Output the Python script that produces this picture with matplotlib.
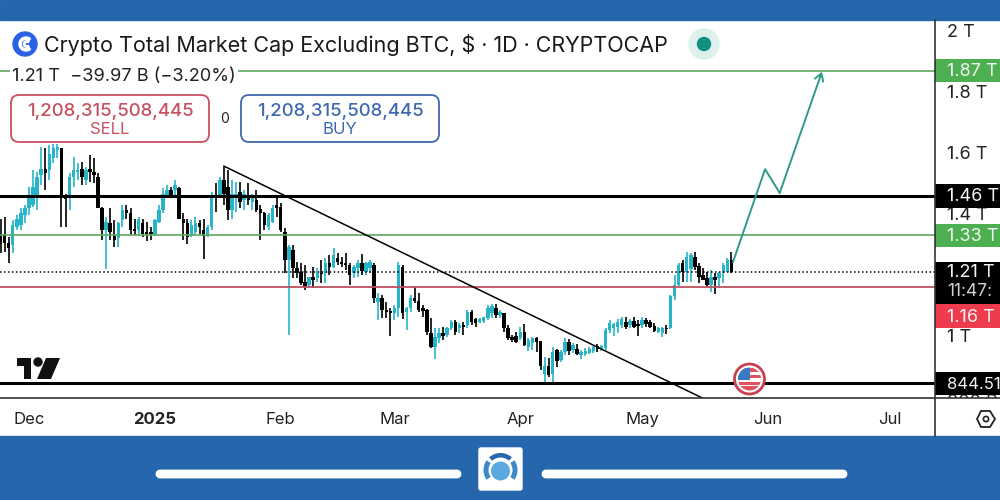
import matplotlib
matplotlib.use('Agg')
import matplotlib.pyplot as plt
import numpy as np
from matplotlib.patches import Rectangle, FancyBboxPatch, Circle, Polygon, Wedge

plt.rcParams['font.family'] = ['Inter', 'DejaVu Sans']

# daily candles, values in trillions. first candle is 7 days before Dec 1
first_day = -7
opens = [1.336,1.336,1.306,1.298,1.358,1.363,1.396,1.418,1.429,1.462,1.527,1.546,1.544,1.582,1.609,1.615,1.462,1.451,1.522,1.538,1.546,1.511,1.549,1.538,1.522,1.421,1.347,1.371,1.327,1.320,1.380,1.413,1.404,1.350,1.347,1.371,1.342,1.342,1.334,1.374,1.413,1.462,1.478,1.478,1.484,1.385,1.369,1.327,1.342,1.369,1.347,1.327,1.358,1.462,1.462,1.513,1.489,1.413,1.451,1.473,1.445,1.462,1.440,1.445,1.415,1.402,1.358,1.374,1.429,1.424,1.342,
         1.249,1.282,1.222,1.211,1.178,1.167,1.194,1.189,1.205,1.205,1.238,1.227,1.255,1.244,1.238,1.233,1.205,1.222,1.238,1.211,1.222,1.233,1.112,1.123,1.085,1.083,1.074,1.091,1.227,1.080,1.091,1.123,1.116,1.091,1.085,1.009,0.965,0.992,1.009,1.003,1.025,1.047,1.025,1.036,1.036,1.080,1.055,1.047,1.050,1.058,1.074,1.091,1.069,1.074,1.025,0.998,1.000,
         0.992,1.014,0.965,0.976,0.992,0.984,0.877,0.902,0.875,0.954,0.921,0.949,0.981,0.954,0.956,0.938,0.941,0.945,0.952,0.967,0.956,0.959,1.020,1.025,1.030,1.036,1.047,1.036,1.050,1.039,1.036,1.052,1.047,1.033,1.014,1.009,1.025,1.025,1.131,1.167,1.238,1.211,1.219,1.258,1.229,1.200,1.189,1.167,1.194,1.189,1.205,1.211,1.249]
highs = [1.385,1.389,1.325,1.380,1.396,1.418,1.429,1.489,1.544,1.538,1.620,1.615,1.626,1.629,1.629,1.615,1.467,1.533,1.588,1.566,1.571,1.555,1.593,1.582,1.533,1.424,1.391,1.421,1.380,1.374,1.429,1.429,1.418,1.385,1.389,1.385,1.374,1.358,1.385,1.429,1.484,1.495,1.489,1.513,1.489,1.402,1.385,1.380,1.391,1.380,1.385,1.363,1.473,1.500,1.522,1.555,1.544,1.511,1.506,1.506,1.478,1.500,1.467,1.478,1.429,1.407,1.402,1.429,1.462,1.435,1.353,
         1.298,1.298,1.244,1.238,1.233,1.194,1.227,1.222,1.249,1.255,1.266,1.287,1.273,1.260,1.273,1.238,1.233,1.249,1.269,1.244,1.249,1.238,1.140,1.134,1.112,1.091,1.102,1.244,1.233,1.096,1.134,1.159,1.140,1.102,1.087,1.058,1.025,1.025,1.030,1.030,1.052,1.052,1.041,1.047,1.085,1.085,1.058,1.058,1.063,1.102,1.105,1.105,1.085,1.076,1.036,1.003,1.014,
         1.030,1.039,0.992,0.998,0.996,0.985,0.932,0.927,0.963,0.956,0.954,0.992,0.989,0.976,0.974,0.954,0.959,0.963,0.967,0.974,0.970,1.025,1.052,1.041,1.055,1.061,1.061,1.055,1.061,1.052,1.063,1.058,1.052,1.041,1.030,1.030,1.036,1.134,1.200,1.240,1.249,1.276,1.273,1.276,1.238,1.222,1.211,1.216,1.205,1.211,1.238,1.255,1.276]
lows = [1.271,1.276,1.238,1.271,1.347,1.347,1.369,1.396,1.424,1.413,1.495,1.478,1.511,1.566,1.582,1.358,1.358,1.413,1.489,1.511,1.495,1.495,1.506,1.500,1.418,1.314,1.221,1.314,1.292,1.292,1.358,1.385,1.331,1.331,1.331,1.325,1.312,1.314,1.327,1.369,1.402,1.451,1.451,1.451,1.385,1.316,1.303,1.323,1.331,1.336,1.251,1.323,1.347,1.407,1.462,1.429,1.380,1.385,1.407,1.418,1.413,1.429,1.413,1.407,1.314,1.347,1.347,1.369,1.391,1.342,1.205,
        1.003,1.189,1.189,1.167,1.151,1.162,1.156,1.178,1.173,1.173,1.200,1.222,1.233,1.227,1.216,1.167,1.189,1.194,1.200,1.200,1.205,1.107,1.052,1.058,1.058,1.000,1.052,1.063,1.055,1.020,1.080,1.107,1.080,1.063,1.003,0.960,0.923,0.976,0.987,0.998,1.020,1.003,1.009,1.003,1.025,1.036,1.030,1.041,1.041,1.052,1.058,1.058,1.058,1.014,0.987,0.981,0.976,
        0.987,0.967,0.952,0.954,0.949,0.888,0.839,0.867,0.850,0.899,0.916,0.938,0.938,0.943,0.938,0.923,0.934,0.941,0.945,0.949,0.952,0.954,1.009,1.000,1.009,1.025,1.022,1.025,1.025,1.000,1.025,1.030,1.025,1.014,1.009,0.996,1.006,1.022,1.118,1.164,1.178,1.178,1.178,1.216,1.173,1.184,1.162,1.145,1.138,1.156,1.173,1.211,1.205]
closes = [1.303,1.306,1.287,1.363,1.385,1.402,1.421,1.456,1.489,1.522,1.546,1.533,1.598,1.615,1.618,1.462,1.448,1.522,1.544,1.544,1.522,1.544,1.538,1.527,1.421,1.347,1.374,1.342,1.316,1.369,1.413,1.404,1.347,1.344,1.382,1.336,1.334,1.334,1.380,1.413,1.467,1.478,1.462,1.495,1.385,1.369,1.323,1.363,1.369,1.356,1.327,1.356,1.462,1.453,1.511,1.467,1.413,1.467,1.467,1.440,1.465,1.445,1.462,1.413,1.402,1.363,1.396,1.418,1.418,1.347,1.249,
          1.293,1.222,1.205,1.173,1.162,1.194,1.184,1.205,1.202,1.238,1.227,1.266,1.244,1.236,1.233,1.200,1.227,1.238,1.214,1.238,1.244,1.123,1.123,1.085,1.080,1.076,1.091,1.233,1.074,1.091,1.123,1.116,1.085,1.083,1.014,0.963,0.998,1.009,1.000,1.025,1.047,1.014,1.036,1.030,1.080,1.047,1.044,1.055,1.061,1.091,1.098,1.069,1.080,1.025,0.992,0.987,0.981,
          1.014,0.970,0.987,0.992,0.981,0.902,0.902,0.872,0.949,0.919,0.949,0.981,0.952,0.970,0.941,0.949,0.952,0.956,0.963,0.956,0.967,1.020,1.041,1.038,1.047,1.055,1.030,1.050,1.030,1.033,1.052,1.039,1.030,1.017,1.027,1.025,1.022,1.131,1.167,1.233,1.211,1.260,1.266,1.227,1.194,1.184,1.167,1.194,1.184,1.205,1.233,1.249,1.211]

# axis stuff
month_days = [0, 31, 62, 90, 121, 151, 182, 212]
month_labels = ['Dec', '2025', 'Feb', 'Mar', 'Apr', 'May', 'Jun', 'Jul']
price_ticks = [2.0, 1.8, 1.6, 1.4, 1.0]
price_tick_labels = ['2 T', '1.8 T', '1.6 T', '1.4 T', '1 T']

# drawings on the chart
resist_black = 1.46
support_black = 0.8445
target_green = 1.87
mid_green = 1.33
last_price = 1.21
red_level = 1.16
trend_days = [48, 165.8]
trend_vals = [1.557, 0.797]
proj_days = [173.4, 181.3, 184.9, 195.3]
proj_vals = [1.243, 1.547, 1.469, 1.866]

TEAL = '#27B4C8'
BLUE = '#2666AC'
GREEN = '#5FA860'
RED = '#BE5060'
PROJ = '#2F9A8C'

fig = plt.figure(figsize=(10, 5), dpi=100, facecolor='white')

# overlay in pixel coords for the app chrome
bg = fig.add_axes([0, 0, 1, 1], zorder=0)
bg.set_xlim(0, 1000)
bg.set_ylim(500, 0)
bg.axis('off')
bg.add_patch(Rectangle((0, 0), 1000, 20, color=BLUE))
bg.add_patch(Rectangle((0, 436), 1000, 64, color=BLUE))

# main chart
ax = fig.add_axes([0, 102 / 500, 0.935, 378 / 500], zorder=1)
ax.patch.set_alpha(0)
ax.set_xlim(-7.143, 223.15)
ax.set_ylim(0.7967, 2.036)
for s in ax.spines.values():
    s.set_visible(False)

days = np.arange(len(opens)) + first_day
opens = np.array(opens)
closes = np.array(closes)
colors = [TEAL if c >= o else 'black' for o, c in zip(opens, closes)]
ax.vlines(days, lows, highs, colors=colors, lw=1.2, zorder=2)
ax.bar(days, np.maximum(np.abs(closes - opens), 0.005), bottom=np.minimum(opens, closes),
       width=0.85, color=colors, linewidth=0, zorder=3)

ax.axhline(resist_black, color='black', lw=2.2, zorder=4)
ax.axhline(support_black, color='black', lw=2.2, zorder=4)
ax.axhline(target_green, color=GREEN, lw=1.2, zorder=4)
ax.axhline(mid_green, color=GREEN, lw=1.2, zorder=4)
ax.axhline(red_level, color=RED, lw=1.3, zorder=4)
ax.axhline(last_price, color='black', lw=1.1, ls=(0, (1, 1.6)), zorder=4)
ax.plot(trend_days, trend_vals, color='black', lw=1.1, zorder=5)
ax.plot(proj_days[:3], proj_vals[:3], color=PROJ, lw=1.4, zorder=5)
ax.annotate('', xy=(proj_days[3], proj_vals[3]), xytext=(proj_days[2], proj_vals[2]),
            arrowprops=dict(arrowstyle='->,head_length=0.5,head_width=0.32', color=PROJ, lw=1.4,
                            shrinkA=0, shrinkB=0), zorder=5)

ax.set_xticks(month_days)
ax.set_xticklabels(month_labels, fontsize=12, color='#222222')
ax.get_xticklabels()[1].set_fontweight('bold')
ax.tick_params(axis='x', length=0, pad=10)
ax.set_yticks([])

# price scale shares the value range of the chart
ax_p = fig.add_axes([0.935, 102 / 500, 0.065, 378 / 500], zorder=2)
ax_p.patch.set_alpha(0)
ax_p.set_xlim(0, 65)
ax_p.set_ylim(ax.get_ylim())
ax_p.set_xticks([])
ax_p.set_yticks([])
for s in ax_p.spines.values():
    s.set_visible(False)
for t, lab in zip(price_ticks, price_tick_labels):
    ax_p.text(12, t - 0.005, lab, fontsize=13, color='#222222', va='center', zorder=1)
ax_p.text(12, 0.782, '800 B', fontsize=13, color='#222222', va='center', clip_on=True, zorder=1)

# price tags. (centre value, half height in value, fill, text, font size)
tags = [(1.87, 0.037, '#4CAF50', '1.87 T', 13), (1.46, 0.039, 'black', '1.46 T', 13),
        (1.33, 0.037, '#4CAF50', '1.33 T', 13), (1.175, 0.069, 'black', '', 13),
        (1.065, 0.039, '#EF3B4E', '1.16 T', 13), (0.8445, 0.037, 'black', '844.51', 12)]
for val, half, col, lab, size in tags:
    ax_p.add_patch(Rectangle((0, val - half), 65, 2 * half, color=col, lw=0, zorder=2))
    if lab:
        ax_p.text(12, val - 0.003, lab, fontsize=size, color='#F2F2F2', va='center', zorder=3)
ax_p.text(12, 1.208, '1.21 T', fontsize=13, color='#F2F2F2', va='center', zorder=3)
ax_p.text(12, 1.146, '11:47:', fontsize=12.5, color='#CFCFCF', va='center', zorder=3)

# chrome on top
top = fig.add_axes([0, 0, 1, 1], zorder=3)
top.set_xlim(0, 1000)
top.set_ylim(500, 0)
top.axis('off')
top.patch.set_alpha(0)

top.plot([0, 1000], [398, 398], color='#333333', lw=1.2)
top.plot([935, 935], [20, 436], color='#333333', lw=1.2)

# header
top.add_patch(Circle((25, 44), 12, color='#2B62E3'))
top.add_patch(Wedge((26, 44), 7, 50, 310, width=2.2, color='white'))
top.add_patch(Wedge((27, 44), 3.5, 50, 310, width=1.6, color='white'))
top.text(44, 45, 'Crypto Total Market Cap Excluding BTC, $ · 1D · CRYPTOCAP', fontsize=15.5,
         color='#1A1A1A', va='center')
top.add_patch(Circle((704, 44), 15, color='#DDF0EE'))
top.add_patch(Circle((704, 44), 6.5, color='#12907F'))
top.text(12, 76.5, '1.21 T  −39.97 B (−3.20%)', fontsize=13.1, color='#222222', va='center',
         bbox=dict(facecolor='white', edgecolor='none', pad=1.5))

for x0, col, lab in [(11, '#C8505F', 'SELL'), (241, '#3F69AE', 'BUY')]:
    top.add_patch(FancyBboxPatch((x0, 95), 198, 47, boxstyle='round,pad=0,rounding_size=8', fc='white',
                                 ec=col, lw=1.3))
    top.text(x0 + 99, 111, '1,208,315,508,445', fontsize=13.4, fontweight='medium', color=col, ha='center', va='center')
    top.text(x0 + 99, 130, lab, fontsize=12, color=col, ha='center', va='center')
top.text(225, 119, '0', fontsize=10, color='#222222', ha='center', va='center')

# tradingview mark
top.add_patch(Polygon([(17, 358), (31, 358), (31, 379), (24, 379), (24, 366), (17, 366)], color='#111111', lw=0))
top.add_patch(Circle((38, 362), 4, color='#111111'))
top.add_patch(Polygon([(46, 358), (60, 358), (51, 379), (37, 379)], color='#111111', lw=0))

# us flag event
top.add_patch(Circle((749.5, 379), 15, fc='white', ec='#C8414F', lw=2))
flag_clip = Circle((749.5, 379), 11.5, transform=top.transData)
flag_parts = [((738, 368), 23, 3.5, '#E0525E'), ((738, 375), 23, 3, '#E0525E'),
              ((738, 382), 23, 3, '#E0525E'), ((738, 386), 23, 6, '#E0525E'), ((738, 367), 11.5, 13, '#3B78C2')]
for xy, w, h, col in flag_parts:
    part = Rectangle(xy, w, h, color=col, lw=0)
    top.add_patch(part)
    part.set_clip_path(flag_clip)

# gear on the corner
top.add_patch(Polygon([(977, 419), (981, 411), (990, 411), (995, 419), (990, 427), (981, 427)], fc='white',
                      ec='#222222', lw=1.3))
top.add_patch(Circle((986, 419), 2.6, fc='white', ec='#222222', lw=1.2))

# bottom bar
top.add_patch(FancyBboxPatch((157, 471), 303, 6, boxstyle='round,pad=0,rounding_size=3', fc='white', ec='white', lw=2))
top.add_patch(FancyBboxPatch((543, 471), 303, 6, boxstyle='round,pad=0,rounding_size=3', fc='white', ec='white', lw=2))
top.add_patch(FancyBboxPatch((479, 448), 43, 42, boxstyle='round,pad=0,rounding_size=2', fc='white', ec='white', lw=1))
top.add_patch(Wedge((500.5, 470), 17, 228, 312, width=4.5, color=BLUE, lw=0))
top.add_patch(Circle((500.5, 471), 9.5, color='#5BA8DE', lw=0))
top.add_patch(Wedge((500.5, 470), 17, 145, 215, width=5, color='#3F88C8', lw=0))
top.add_patch(Wedge((500.5, 470), 17, -35, 35, width=5, color='#3F88C8', lw=0))

fig.savefig('out.png', dpi=100)
